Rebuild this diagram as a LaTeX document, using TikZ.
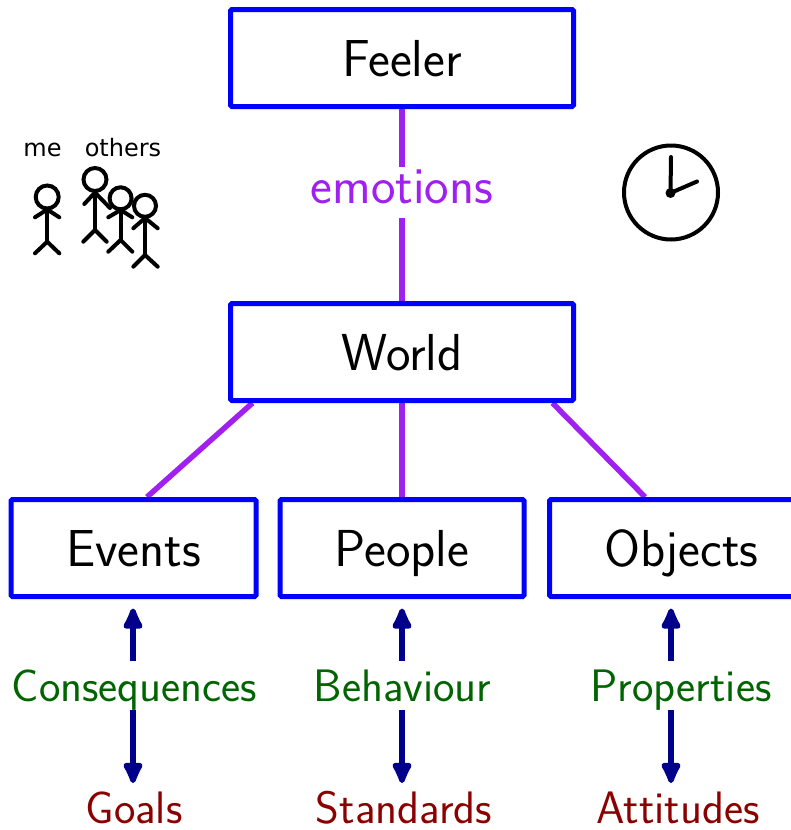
\documentclass[tikz,border=0pt]{standalone}
\usepackage{fontspec}
\newfontfamily\dejavu{DejaVu Sans}
\usetikzlibrary{arrows.meta,calc}
\pgfdeclarelayer{background}
\pgfsetlayers{background,main}
\definecolor{boxblue}{RGB}{0,0,255}
\definecolor{linepurple}{RGB}{160,32,240}
\definecolor{labgreen}{RGB}{0,100,0}
\definecolor{labred}{RGB}{139,0,0}
\definecolor{arrowblue}{RGB}{0,0,139}
\begin{document}
\begin{tikzpicture}[x=1pt,y=-1pt,
  box/.style={draw=boxblue,line width=5pt,rounded corners=1.5pt,fill=white,
    minimum width=343pt,minimum height=97pt,inner sep=0pt,
    font=\fontsize{52}{60}\selectfont\sffamily,text height=36pt,text depth=0pt},
  leaf/.style={box,minimum width=244pt},
  conn/.style={draw=linepurple,line width=5.5pt},
  emolab/.style={inner sep=0pt,text=linepurple,minimum height=51pt,
    text height=21pt,text depth=0pt,font=\fontsize{52}{60}\selectfont\sffamily},
  aspect/.style={inner sep=0pt,text=labgreen,minimum height=49.5pt,
    text height=31.5pt,text depth=0pt,font=\fontsize{45.5}{52}\selectfont\sffamily},
  judge/.style={inner sep=0pt,text=labred,
    text height=31.5pt,text depth=0pt,font=\fontsize{45.5}{52}\selectfont\sffamily},
  arr/.style={draw=arrowblue,fill=arrowblue,line width=6pt,shorten >=9.5pt,
    -{Latex[length=27pt,width=24pt,round]}},
  small/.style={inner sep=0pt,anchor=base,font=\dejavu\fontsize{24}{28}\selectfont},
  stick/.style={line width=4pt,line cap=round,line join=round},
  head/.style={line width=4pt,fill=white}
]
\useasboundingbox (0,0) rectangle (790,830);

% boxes
\node[box] (feeler) at (402,58) {Feeler};
\node[box] (world) at (402,352) {World};
\node[leaf,minimum width=245pt] (events) at (133.5,548) {Events};
\node[leaf] (people) at (402,548) {People};
\node[leaf,minimum width=264pt] (objects) at (681.5,548) {Objects};

% labels
\node[emolab] (emo) at (402,192.5) {emotions};
\node[aspect] (cons) at (134.5,685.5) {Consequences};
\node[aspect] (behav) at (402.5,685.5) {Behaviour};
\node[aspect] (props) at (681,685.5) {Properties};
\node[judge] (goals) at (134,807.5) {Goals};
\node[judge] (stand) at (404,807.5) {Standards};
\node[judge] (atti) at (678,807.5) {Attitudes};

% arrow columns
\coordinate (colE) at (133,0);
\coordinate (colP) at (402,0);
\coordinate (colO) at (671,0);

% purple connectors
\begin{pgfonlayer}{background}
\draw[conn] (feeler.south) -- (emo.north);
\draw[conn] (emo.south) -- (world.north);
\draw[conn] ($(world.south west)+(24.5,0)$) -- ($(events.north)+(13.5,0)$);
\draw[conn] (world.south) -- (people.north);
\draw[conn] ($(world.south east)+(-23.5,0)$) -- ($(objects.north)+(-36.5,0)$);
\end{pgfonlayer}

% arrows
\draw[arr] (cons.north -| colE) -- (events.south -| colE);
\draw[arr,shorten >=8.5pt] (cons.south -| colE) -- (goals.north -| colE);
\draw[arr] (behav.north -| colP) -- (people.south -| colP);
\draw[arr,shorten >=8.5pt] (behav.south -| colP) -- (stand.north -| colP);
\draw[arr] (props.north -| colO) -- (objects.south -| colO);
\draw[arr,shorten >=8.5pt] (props.south -| colO) -- (atti.north -| colO);

% me / others
\node[small] (me) at (42.5,156) {me};
\node[small] (others) at (123,156) {others};

% stick figures
% me
\draw[head] (47.2,197) circle[radius=11.5pt];
\draw[stick] (35,217.3) -- (47.2,209.5) -- (59.3,217.3);
\draw[stick] (47.2,209.5) -- (47.2,241.7);
\draw[stick] (35,253.3) -- (47.2,241.7) -- (59.3,253.3);
% fig 1
\draw[head] (95,179.5) circle[radius=11.5pt];
\draw[stick] (84.3,204) -- (95,192.5) -- (110,208);
\draw[stick] (95,192.5) -- (95,230);
\draw[stick] (83.3,241.7) -- (95,230) -- (106.7,241.7);
% fig 2
\draw[head] (120.6,198.3) circle[radius=11pt];
\draw[stick] (108.3,217.3) -- (120.6,210) -- (132.3,217.3);
\draw[stick] (120.6,210) -- (120.6,240);
\draw[stick] (108.3,251.7) -- (120.6,240) -- (132.3,251.7);
% fig 3
\draw[head] (145,205.8) circle[radius=11pt];
\draw[stick] (133.3,228.3) -- (145,218) -- (157.7,228.3);
\draw[stick] (145,218) -- (145,255);
\draw[stick] (133.3,266.7) -- (145,255) -- (157.7,266.7);

% clock
\draw[line width=4pt] (671,192.5) circle[radius=47pt];
\fill (670.5,193) circle[radius=5pt];
\draw[line width=4pt,line cap=round] (670.5,193) -- (671,157);
\draw[line width=4pt,line cap=round] (670.5,193) -- (697,181.5);
\end{tikzpicture}
\end{document}
